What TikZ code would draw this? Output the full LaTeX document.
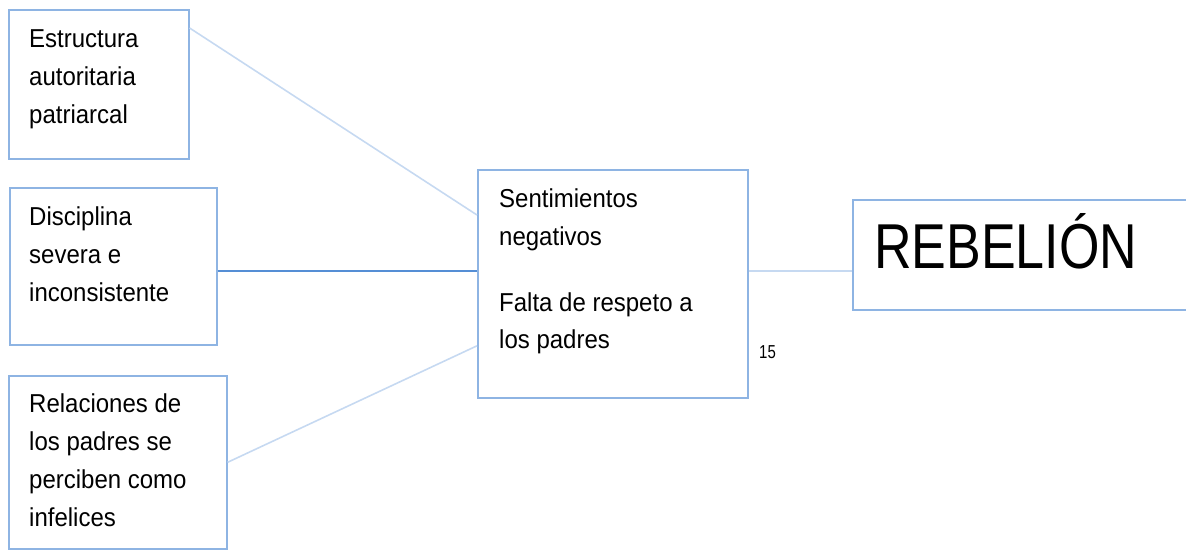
\documentclass[tikz,border=0pt]{standalone}
\usepackage{fontspec}
\setmainfont{Liberation Sans}
\definecolor{boxblue}{HTML}{8EB4E3}
\definecolor{lineblue}{HTML}{C6D9F1}
\definecolor{darkblue}{HTML}{558ED5}
\newcommand\vstr[1]{\scalebox{1}[1.08]{#1}}
\begin{document}
\begin{tikzpicture}[x=1pt,y=-1pt,
  frame/.style={draw=boxblue,line width=1.6pt,rectangle,inner sep=0pt,anchor=north west},
  txt/.style={anchor=base west,inner sep=0pt,font=\fontsize{24}{38}\selectfont},
  link/.style={draw=lineblue,line width=1.6pt},
  strong/.style={draw=darkblue,line width=2pt}]
\useasboundingbox (0,0) rectangle (1186,550);
% boxes
\node[frame,minimum width=180pt,minimum height=149pt] (b1) at (8,9) {};
\node[frame,minimum width=207pt,minimum height=157pt] (b2) at (9,187) {};
\node[frame,minimum width=218pt,minimum height=173pt] (b3) at (8,375) {};
\node[frame,minimum width=270pt,minimum height=228pt] (c) at (477,169) {};
\node[frame,minimum width=360pt,minimum height=110pt] (r) at (852,199) {};
% texts
\node[txt] (t11) at (29,47) {\vstr{Estructura}};
\node[txt] (t12) at (29,85) {\vstr{autoritaria}};
\node[txt] (t13) at (29,123) {\vstr{patriarcal}};
\node[txt] (t21) at (29,225) {\vstr{Disciplina}};
\node[txt] (t22) at (29,263) {\vstr{severa e}};
\node[txt] (t23) at (29,301) {\vstr{inconsistente}};
\node[txt] (t31) at (29,412) {\vstr{Relaciones de}};
\node[txt] (t32) at (29,450) {\vstr{los padres se}};
\node[txt] (t33) at (29,488) {\vstr{perciben como}};
\node[txt] (t34) at (29,526) {\vstr{infelices}};
\node[txt] (c1) at (499,207) {\vstr{Sentimientos}};
\node[txt] (c2) at (499,245) {\vstr{negativos}};
\node[txt] (c3) at (499,311) {\vstr{Falta de respeto a}};
\node[txt] (c4) at (499,348) {\vstr{los padres}};
\node[anchor=base west,inner sep=0pt,font=\fontsize{52}{60}\selectfont] (rt) at (874,268) {\scalebox{1}[1.22]{REBELIÓN}};
\node[anchor=base west,inner sep=0pt,font=\fontsize{15}{17}\selectfont] (pg) at (759,358) {\scalebox{1}[1.25]{15}};
% connectors
\draw[link] ([yshift=-19pt]b1.north east) -- ([yshift=-46pt]c.north west);
\draw[strong] ([yshift=-4.5pt]b2.east) -- ([yshift=13pt]c.west);
\draw[link] (b3.east) -- ([yshift=-62pt]c.west);
\draw[link] ([yshift=13pt]c.east) -- ([yshift=-16pt]r.west);
\end{tikzpicture}
\end{document}
